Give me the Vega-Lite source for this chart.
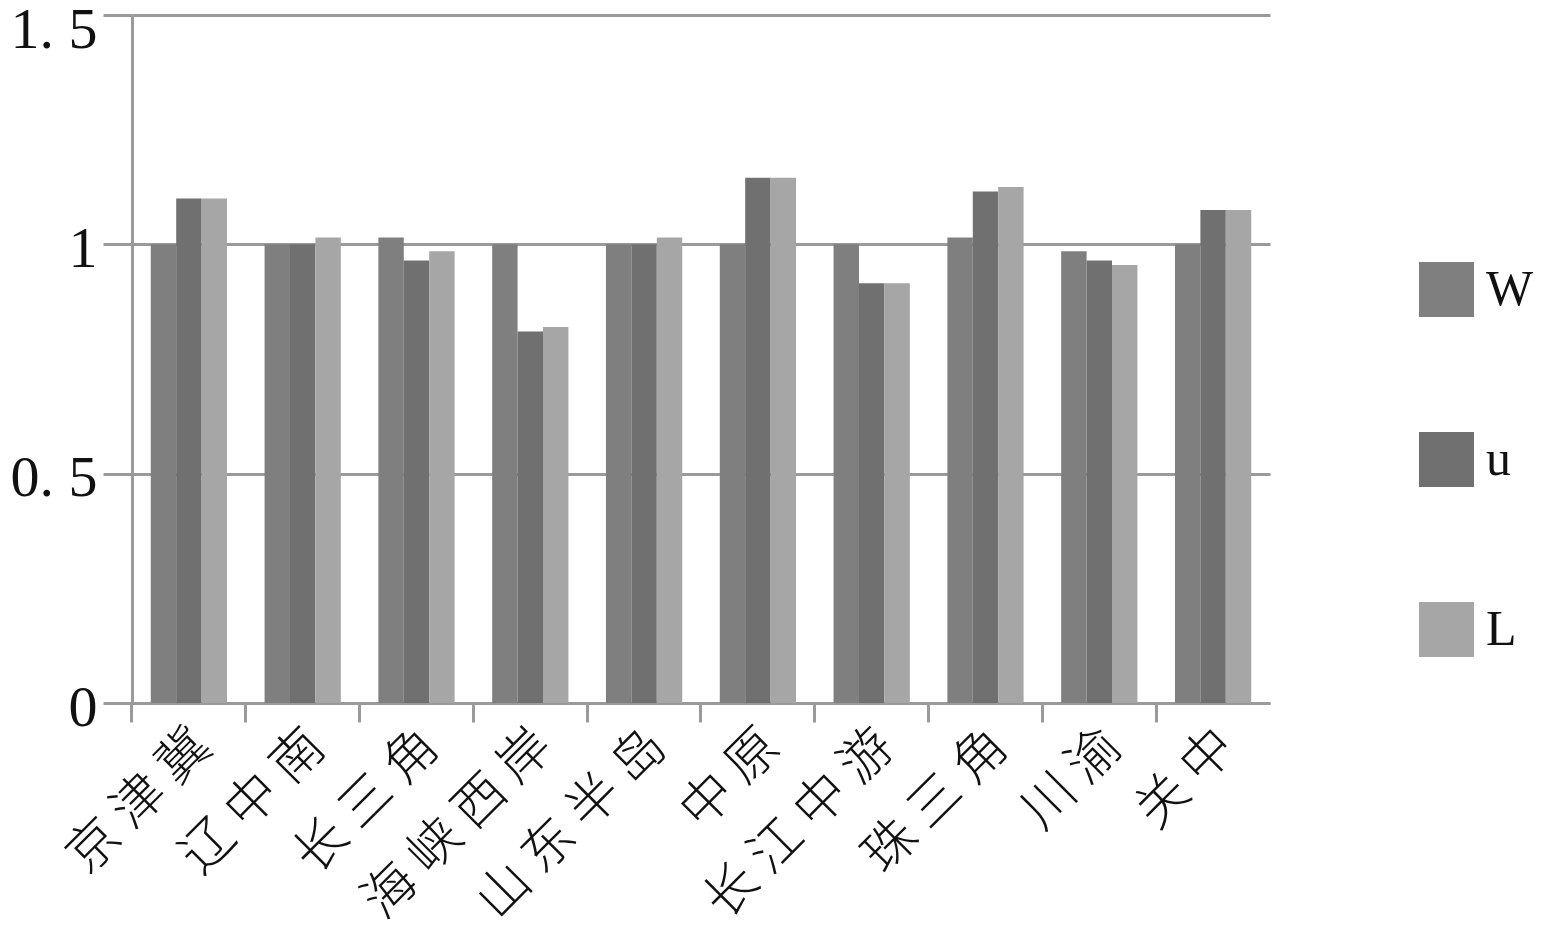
{
  "$schema": "https://vega.github.io/schema/vega-lite/v6.json",
  "autosize": "none",
  "width": 1138,
  "height": 688,
  "padding": {"left": 132, "top": 15, "right": 272, "bottom": 229},
  "background": "white",
  "data": {
    "values": [
      {"region": "京 津 冀", "series": "W", "value": 1.0},
      {"region": "京 津 冀", "series": "u", "value": 1.10},
      {"region": "京 津 冀", "series": "L", "value": 1.10},
      {"region": "辽 中 南", "series": "W", "value": 1.0},
      {"region": "辽 中 南", "series": "u", "value": 1.0},
      {"region": "辽 中 南", "series": "L", "value": 1.015},
      {"region": "长 三 角", "series": "W", "value": 1.015},
      {"region": "长 三 角", "series": "u", "value": 0.965},
      {"region": "长 三 角", "series": "L", "value": 0.985},
      {"region": "海 峡 西 岸", "series": "W", "value": 1.0},
      {"region": "海 峡 西 岸", "series": "u", "value": 0.81},
      {"region": "海 峡 西 岸", "series": "L", "value": 0.82},
      {"region": "山 东 半 岛", "series": "W", "value": 1.0},
      {"region": "山 东 半 岛", "series": "u", "value": 1.0},
      {"region": "山 东 半 岛", "series": "L", "value": 1.015},
      {"region": "中 原", "series": "W", "value": 1.0},
      {"region": "中 原", "series": "u", "value": 1.145},
      {"region": "中 原", "series": "L", "value": 1.145},
      {"region": "长 江 中 游", "series": "W", "value": 1.0},
      {"region": "长 江 中 游", "series": "u", "value": 0.915},
      {"region": "长 江 中 游", "series": "L", "value": 0.915},
      {"region": "珠 三 角", "series": "W", "value": 1.015},
      {"region": "珠 三 角", "series": "u", "value": 1.115},
      {"region": "珠 三 角", "series": "L", "value": 1.125},
      {"region": "川 渝", "series": "W", "value": 0.985},
      {"region": "川 渝", "series": "u", "value": 0.965},
      {"region": "川 渝", "series": "L", "value": 0.955},
      {"region": "关 中", "series": "W", "value": 1.0},
      {"region": "关 中", "series": "u", "value": 1.075},
      {"region": "关 中", "series": "L", "value": 1.075}
    ]
  },
  "mark": {"type": "bar"},
  "encoding": {
    "x": {
      "field": "region",
      "type": "nominal",
      "sort": null,
      "scale": {"paddingInner": 0.33, "paddingOuter": 0.165},
      "axis": {
        "title": null,
        "bandPosition": -0.2463,
        "labelAngle": -45,
        "labelFont": "Noto Sans CJK SC",
        "labelFontSize": 52,
        "labelFontWeight": 300,
        "labelLimit": 0,
        "labelColor": "#111111",
        "labelPadding": -2,
        "labelOffset": -4,
        "domainColor": "#9a9a9a",
        "domainWidth": 3,
        "tickColor": "#9a9a9a",
        "tickWidth": 3,
        "tickSize": 19,
        "grid": false
      }
    },
    "xOffset": {"field": "series", "type": "nominal", "sort": ["W", "u", "L"], "scale": {"paddingInner": 0, "paddingOuter": 0}},
    "y": {
      "field": "value",
      "type": "quantitative",
      "scale": {"domain": [0, 1.5], "nice": false},
      "axis": {
        "title": null,
        "values": [0, 0.5, 1, 1.5],
        "labelExpr": "datum.value == 1.5 ? '1. 5' : datum.value == 0.5 ? '0. 5' : datum.value == 1 ? '1' : '0'",
        "labelFont": "Liberation Serif",
        "labelFontSize": 58,
        "labelColor": "#111111",
        "labelPadding": 6,
        "labelOffset": {"condition": {"test": "datum.value == 1.5", "value": 15}, "value": 5},
        "domainColor": "#9a9a9a",
        "domainWidth": 3,
        "tickColor": "#9a9a9a",
        "tickWidth": 3,
        "tickSize": 29,
        "grid": true,
        "gridColor": "#9a9a9a",
        "gridWidth": 3
      }
    },
    "color": {
      "field": "series",
      "type": "nominal",
      "sort": ["W", "u", "L"],
      "scale": {"domain": ["W", "u", "L"], "range": ["#7f7f7f", "#707070", "#a6a6a6"]},
      "legend": {
        "title": null,
        "orient": "none",
        "legendX": 1287,
        "legendY": 247,
        "symbolType": "square",
        "symbolSize": 3025,
        "symbolStrokeWidth": 0,
        "labelFont": "Liberation Serif",
        "labelFontSize": 50,
        "labelColor": "#111111",
        "labelOffset": 12,
        "rowPadding": 115
      }
    }
  },
  "config": {"view": {"stroke": null}}
}
